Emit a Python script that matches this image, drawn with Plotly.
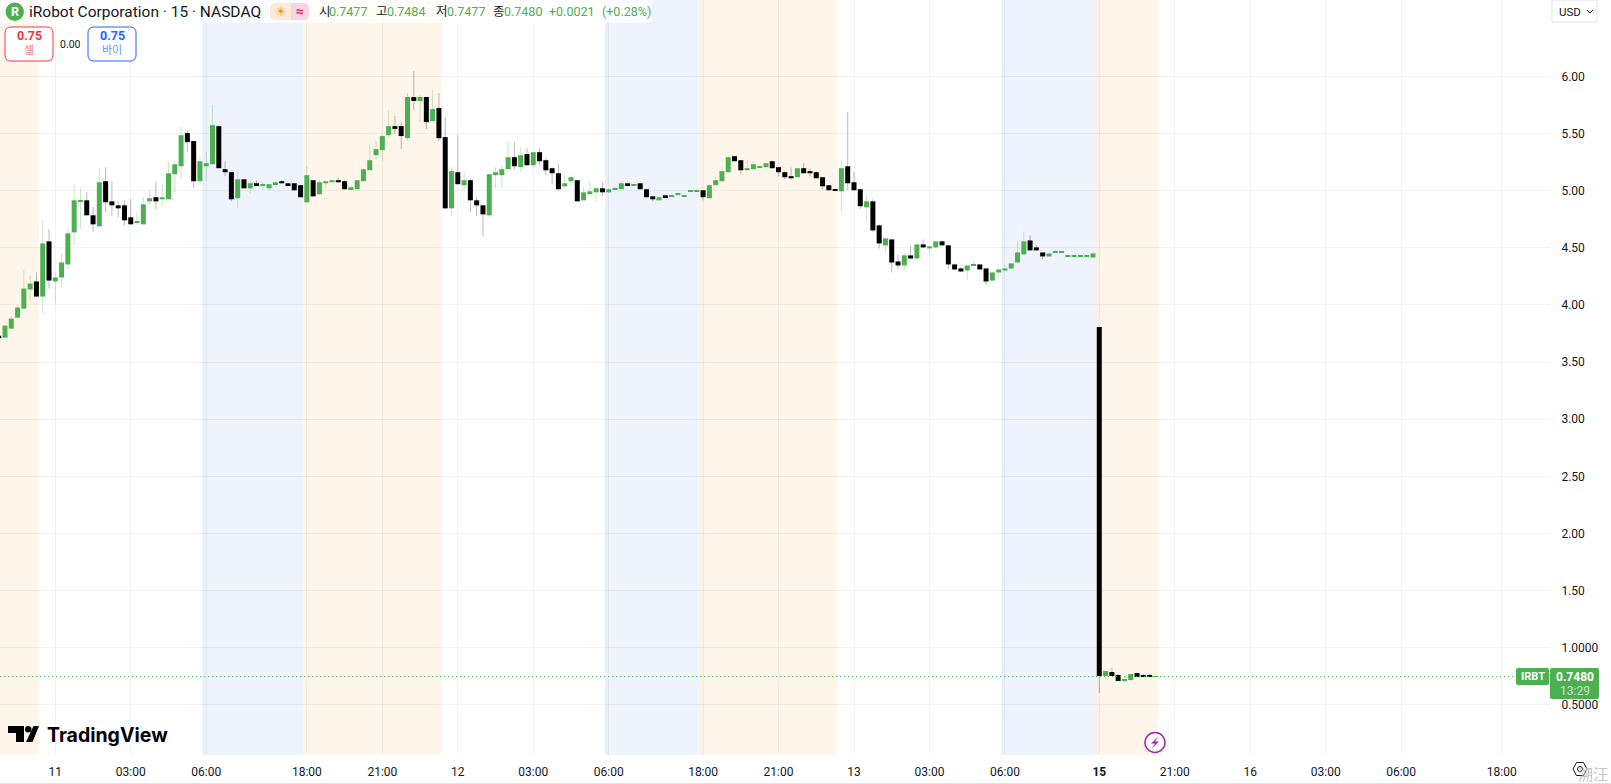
import plotly.graph_objects as go

# ---------- data ----------
bar_numbers = list(range(-1, 184))

opens = [
3.73,3.713,3.792,3.889,3.968,4.135,4.205,4.073,4.556,4.205,
4.240,4.354,4.635,4.905,4.915,4.784,4.687,5.082,4.906,4.871,
4.871,4.766,4.722,4.705,4.906,4.942,4.924,4.924,5.143,5.213,
5.503,5.433,5.082,5.213,5.231,5.564,5.187,5.161,4.933,5.099,
5.020,5.064,5.047,5.020,5.056,5.082,5.064,5.064,5.047,4.898,
5.091,4.968,5.064,5.073,5.091,5.082,5.012,5.012,5.082,5.178,
5.310,5.354,5.485,5.564,5.564,5.459,5.819,5.784,5.819,5.608,
5.722,5.468,4.845,5.161,5.047,5.091,4.915,4.871,4.784,5.135,
5.135,5.187,5.292,5.205,5.319,5.222,5.336,5.266,5.196,5.152,
5.038,5.082,5.091,4.915,4.968,4.985,5.02,4.985,5.012,5.012,
5.064,5.047,5.064,5.012,4.950,4.915,4.959,4.950,4.966,4.950,
4.992,4.992,5.003,4.933,5.047,5.082,5.161,5.301,5.266,5.178,
5.187,5.202,5.205,5.257,5.205,5.161,5.126,5.117,5.196,5.17,
5.161,5.117,5.047,5.01,4.994,5.213,5.073,5.012,4.854,4.906,
4.696,4.52,4.573,4.38,4.345,4.433,4.406,4.529,4.494,4.503,
4.556,4.521,4.354,4.319,4.301,4.347,4.354,4.319,4.213,4.284,
4.301,4.319,4.371,4.442,4.564,4.503,4.459,4.424,4.457,4.457,
4.422,4.422,4.422,4.422,4.415,3.807,0.753,0.788,0.762,0.71,
0.718,0.78,0.755,0.755,0.7477]

highs = [
3.73,3.819,3.90,3.994,4.301,4.257,4.284,4.740,4.661,4.284,
4.450,4.678,5.056,5.029,4.985,4.854,5.196,5.205,5.082,4.906,
4.915,4.924,4.81,4.942,5.003,5.082,5.064,5.257,5.266,5.556,
5.529,5.433,5.301,5.336,5.749,5.564,5.257,5.161,5.170,5.099,
5.082,5.09,5.073,5.056,5.073,5.09,5.064,5.064,5.047,5.213,
5.091,5.09,5.082,5.10,5.117,5.09,5.047,5.091,5.187,5.406,
5.433,5.494,5.705,5.652,5.599,5.854,6.047,5.836,5.819,5.880,
5.854,5.643,5.205,5.485,5.161,5.108,4.942,4.871,5.143,5.205,
5.222,5.433,5.424,5.380,5.371,5.336,5.371,5.283,5.205,5.231,
5.143,5.135,5.091,5.029,5.082,5.03,5.073,5.02,5.02,5.08,
5.07,5.055,5.064,5.012,4.950,4.942,4.959,4.958,4.98,4.958,
5.0,5.02,5.003,5.06,5.126,5.205,5.31,5.301,5.266,5.266,
5.257,5.225,5.24,5.257,5.205,5.17,5.205,5.196,5.24,5.187,
5.17,5.117,5.047,5.01,5.266,5.687,5.161,5.012,4.95,4.924,
4.705,4.582,4.573,4.442,4.45,4.52,4.534,4.573,4.512,4.556,
4.565,4.521,4.363,4.33,4.345,4.38,4.354,4.319,4.295,4.328,
4.345,4.363,4.556,4.643,4.608,4.52,4.459,4.45,4.485,4.465,
4.43,4.44,4.43,4.43,4.46,3.807,0.797,0.823,0.77,0.727,
0.771,0.78,0.77,0.77,0.7484]

lows = [
3.71,3.713,3.792,3.88,3.968,4.020,4.073,3.924,4.143,4.012,
4.152,4.310,4.520,4.661,4.784,4.635,4.687,4.810,4.775,4.766,
4.696,4.705,4.696,4.705,4.871,4.836,4.863,4.924,4.985,5.108,
5.336,5.020,5.073,5.082,5.231,5.196,5.126,4.906,4.845,5.020,
4.977,5.047,5.003,5.003,5.056,5.064,5.047,5.003,4.942,4.898,
4.941,4.968,5.02,5.073,5.073,5.012,5.012,5.012,5.082,5.178,
5.275,5.257,5.459,5.494,5.363,5.433,5.705,5.599,5.538,5.608,
5.433,4.836,4.775,5.056,4.994,4.810,4.775,4.599,4.78,5.020,
5.020,5.187,5.187,5.161,5.222,5.20,5.222,5.135,5.056,5.003,
5.012,5.038,4.906,4.915,4.968,4.906,4.950,4.985,5.012,5.012,
5.047,5.047,5.012,4.942,4.906,4.915,4.942,4.950,4.95,4.950,
4.992,4.992,4.915,4.933,5.047,5.082,5.161,5.257,5.143,5.178,
5.187,5.202,5.205,5.196,5.126,5.10,5.10,5.117,5.152,5.126,
5.108,5.012,5.003,5.0,4.819,5.003,5.003,4.836,4.731,4.635,
4.494,4.45,4.284,4.319,4.301,4.398,4.398,4.503,4.45,4.503,
4.521,4.319,4.31,4.292,4.222,4.347,4.31,4.178,4.213,4.249,
4.301,4.31,4.371,4.442,4.477,4.477,4.398,4.424,4.457,4.457,
4.422,4.422,4.422,4.422,4.415,0.605,0.727,0.753,0.71,0.69,
0.71,0.745,0.745,0.745,0.7477]

closes = [
3.71,3.819,3.880,3.977,4.143,4.187,4.073,4.538,4.213,4.240,
4.371,4.626,4.915,4.915,4.784,4.705,5.073,4.898,4.871,4.845,
4.740,4.705,4.733,4.880,4.933,4.906,4.942,5.152,5.231,5.485,
5.424,5.082,5.257,5.240,5.573,5.196,5.161,4.924,5.099,5.020,
5.064,5.047,5.058,5.056,5.073,5.064,5.047,5.003,4.942,5.135,
4.950,5.073,5.082,5.091,5.073,5.012,5.029,5.091,5.187,5.266,
5.363,5.477,5.564,5.547,5.477,5.819,5.784,5.819,5.599,5.713,
5.459,4.845,5.170,5.056,5.091,4.915,4.871,4.792,5.143,5.161,
5.187,5.292,5.213,5.310,5.222,5.336,5.257,5.178,5.152,5.012,
5.064,5.117,4.906,4.985,4.994,5.02,4.985,5.012,5.024,5.064,
5.047,5.058,5.012,4.942,4.924,4.942,4.942,4.961,4.977,4.961,
5.003,5.003,4.942,5.047,5.091,5.170,5.292,5.257,5.178,5.196,
5.231,5.213,5.24,5.196,5.161,5.117,5.108,5.196,5.152,5.152,
5.108,5.038,5.003,5.0,5.196,5.064,5.003,4.863,4.906,4.652,
4.538,4.582,4.371,4.345,4.433,4.406,4.529,4.503,4.512,4.556,
4.521,4.354,4.31,4.292,4.345,4.358,4.31,4.205,4.284,4.31,
4.319,4.363,4.459,4.556,4.477,4.477,4.424,4.45,4.468,4.468,
4.433,4.433,4.433,4.433,4.45,0.753,0.797,0.753,0.71,0.727,
0.771,0.745,0.745,0.745,0.748]

x_tick_bars = [8,20,32,48,60,72,84,96,111,123,135,147,159,174,186,198,210,222,238]
x_tick_labels = ["11","03:00","06:00","18:00","21:00","12","03:00","06:00","18:00","21:00",
                 "13","03:00","06:00","<b>15</b>","21:00","16","03:00","06:00","18:00"]
y_tick_values = [6.0,5.5,5.0,4.5,4.0,3.5,3.0,2.5,2.0,1.5,1.0,0.5]
y_tick_labels = ["6.00","5.50","5.00","4.50","4.00","3.50","3.00","2.50","2.00","1.50","1.0000","0.5000"]

premarket_sessions = [(-2, 5.4), (47.4, 69.4), (110.4, 132.4), (173.4, 183.4)]
postmarket_sessions = [(31.4, 47.4), (95.4, 110.4), (158.4, 173.4)]
post_seams = [(31.4, 32), (95.4, 96), (158.4, 159)]
pre_seams = [(110.4, 111), (173.4, 174)]
last_price = 0.748

title_text = "iRobot Corporation · 15 · NASDAQ"
ohlc_items = [("시", 317.5, "#131722"), ("0.7477", 328, "#4caf50"), ("고", 375, "#131722"), ("0.7484", 386, "#4caf50"),
              ("저", 435, "#131722"), ("0.7477", 446, "#4caf50"), ("종", 492, "#131722"), ("0.7480", 503, "#4caf50"),
              ("+0.0021", 548, "#4caf50"), ("(+0.28%)", 601, "#4caf50")]

# ---------- colours / frame ----------
GREEN, BLACK = "#4caf50", "#000000"
WICK_UP, WICK_DOWN = "rgba(76,175,80,0.30)", "rgba(0,0,0,0.28)"
PLOT_W, PLOT_H = 1550, 755
PITCH = 6.289
FONT = "Roboto, 'Noto Sans CJK KR', sans-serif"

def X(px): return px / PLOT_W
def Y(py): return 1 - py / PLOT_H

up = [c >= o for o, c in zip(opens, closes)]

fig = go.Figure()
fig.add_trace(go.Bar(x=bar_numbers, y=[h - l for h, l in zip(highs, lows)], base=lows,
                     width=1 / PITCH, marker=dict(color=[WICK_UP if u else WICK_DOWN for u in up], line_width=0),
                     hoverinfo="skip"))
fig.add_trace(go.Bar(x=bar_numbers, y=[abs(c - o) for o, c in zip(opens, closes)],
                     base=[min(o, c) for o, c in zip(opens, closes)],
                     width=5 / PITCH, marker=dict(color=[GREEN if u else BLACK for u in up], line_width=0),
                     hoverinfo="skip"))

shapes = []
def band(a, b, color):
    shapes.append(dict(type="rect", xref="x", yref="paper", x0=a, x1=b, y0=0, y1=1, fillcolor=color, line_width=0, layer="below"))
for a, b in premarket_sessions:
    band(a, b, "#fff6eb")
for a, b in postmarket_sessions:
    band(a, b, "#eef3fe")
for a, b in post_seams:
    band(a, b, "rgba(60,80,140,0.025)")
for a, b in pre_seams:
    band(a, b, "rgba(200,130,60,0.04)")

def rrect(x0, y0, x1, y1, r):
    xa, xb, ya, yb = X(x0), X(x1), Y(y0), Y(y1)
    rx, ry = r / PLOT_W, r / PLOT_H
    return (f"M {xa+rx} {ya} L {xb-rx} {ya} Q {xb} {ya} {xb} {ya-ry} L {xb} {yb+ry} Q {xb} {yb} {xb-rx} {yb} "
            f"L {xa+rx} {yb} Q {xa} {yb} {xa} {yb+ry} L {xa} {ya-ry} Q {xa} {ya} {xa+rx} {ya} Z")

def path(points, close=True):
    return "M " + " L ".join(f"{X(a)} {Y(b)}" for a, b in points) + (" Z" if close else "")

def ui(p, fill=None, line=None, lw=1, layer="above"):
    shapes.append(dict(type="path", xref="paper", yref="paper", path=p, fillcolor=fill or "rgba(0,0,0,0)",
                       line=dict(color=line or "rgba(0,0,0,0)", width=lw if line else 0), layer=layer))

# last-price dotted line
shapes.append(dict(type="line", xref="paper", yref="y", x0=0, x1=1, y0=last_price, y1=last_price,
                   line=dict(color=GREEN, width=1, dash="1px,3px"), layer="above"))

# legend strip + controls
ui(path([(0, 0), (652, 0), (652, 23), (0, 23)]), fill="rgba(255,255,255,0.75)")
shapes.append(dict(type="circle", xref="paper", yref="paper", x0=X(5.5), x1=X(24), y0=Y(2.5), y1=Y(21), fillcolor=GREEN, line_width=0, layer="above"))
ui(rrect(270, 3, 291, 20, 6), fill="#fdead3")
ui(rrect(285, 3, 309, 20, 6), fill="#f8d3e2")
ui(path([(285, 3), (291, 3), (291, 20), (285, 20)]), fill="#fdead3")
ui(rrect(5, 27, 53, 61, 6), fill="#ffffff", line="#f23645")
ui(rrect(88, 27, 136, 61, 6), fill="#ffffff", line="#2962ff")

# price-scale boxes
ui(path([(1552, 0), (1597, 0), (1597, 22), (1552, 22)]), fill="#ffffff", line="#e0e3eb")
ui(path([(1587, 10), (1590, 13), (1593, 10)], close=False), line="#131722", lw=1)
ui(rrect(1516, 668, 1549, 685, 2), fill=GREEN)
ui(rrect(1550, 668, 1599, 699, 2), fill=GREEN)

# TradingView mark
ui(path([(8, 726), (24, 726), (24, 742), (16, 742), (16, 733), (8, 733)]), fill="#000000")
shapes.append(dict(type="circle", xref="paper", yref="paper", x0=X(25), x1=X(31.5), y0=Y(726), y1=Y(732.5), fillcolor="#000000", line_width=0, layer="above"))
ui(path([(33.5, 726), (39, 726), (32.5, 742), (26, 742)]), fill="#000000")

# bolt button
shapes.append(dict(type="circle", xref="paper", yref="paper", x0=X(1145), x1=X(1165), y0=Y(732.5), y1=Y(752.5),
                   fillcolor="#ffffff", line=dict(color="#9c27b0", width=1.5), layer="above"))
ui(path([(1158.5, 736.5), (1151, 743.5), (1155, 743.5), (1151.5, 748.5), (1159, 741.5), (1155, 741.5)]), fill="#9c27b0")

# settings hexagon + bottom rule
ui(path([(1573, 769), (1576.5, 762.5), (1583.5, 762.5), (1587, 769), (1583.5, 775.5), (1576.5, 775.5)]), line="#131722", lw=1)
shapes.append(dict(type="circle", xref="paper", yref="paper", x0=X(1577.5), x1=X(1582.5), y0=Y(766.5), y1=Y(771.5),
                   line=dict(color="#131722", width=1), layer="above"))
ui(path([(0, 783), (1611, 783), (1611, 784), (0, 784)]), fill="#e0e3eb")

def note(text, x, y, size=12, color="#131722", anchor="left", bold=False, family=FONT):
    return dict(text=f"<b>{text}</b>" if bold else text, xref="paper", yref="paper", x=X(x), y=Y(y),
                xanchor=anchor, yanchor="middle", showarrow=False, borderpad=0,
                font=dict(size=size, color=color, family=family))

notes = [
    note("R", 14.8, 11.5, 12.5, "#ffffff", "center", True),
    note(title_text, 28, 11.5, 15.5),
    note("☀", 280.5, 11, 13, "#ff9800", "center", family="'DejaVu Sans'"),
    note("≈", 300, 11, 14, "#e91e63", "center", True),
    note("0.75", 29, 36, 12.5, "#f23645", "center", True),
    note("셀", 29, 50.5, 11, "#f77c80", "center"),
    note("0.00", 70.5, 44, 10.5, "#131722", "center"),
    note("0.75", 112, 36, 12.5, "#2962ff", "center", True),
    note("바이", 112, 50.5, 11, "#5b9cf6", "center"),
    note("USD", 1558, 11.5, 11.5),
    note("IRBT", 1532.5, 676.5, 11, "#ffffff", "center", True),
    note("0.7480", 1574.5, 676.5, 12, "#ffffff", "center", True),
    note("13:29", 1574.5, 691, 12, "rgba(255,255,255,0.72)", "center"),
    note("TradingView", 46, 735, 19.5, "#000000", "left", True, "Inter, Roboto, sans-serif"),
    note("溯汪", 1609, 775, 15, "#c4c4c4", "right"),
]
notes += [note(t, x, 11.5, 12.5, c) for t, x, c in ohlc_items]

x_lo = (0 - 55.3) / PITCH + 8
x_hi = (PLOT_W - 55.3) / PITCH + 8
y_lo = 6 - (PLOT_H - 76.3) / 114.3
y_hi = 6 + 76.3 / 114.3

GRID = "rgba(42,46,57,0.06)"
fig.update_layout(
    width=1611, height=784, margin=dict(l=0, r=61, t=0, b=29), autosize=False,
    paper_bgcolor="#ffffff", plot_bgcolor="#ffffff", showlegend=False, barmode="overlay",
    font=dict(family=FONT, size=12, color="#131722"),
    shapes=shapes, annotations=notes,
    xaxis=dict(range=[x_lo, x_hi], tickmode="array", tickvals=x_tick_bars, ticktext=x_tick_labels,
               showgrid=True, gridcolor=GRID, gridwidth=1, zeroline=False, showline=False,
               ticks="outside", ticklen=6, tickcolor="rgba(0,0,0,0)", tickfont=dict(size=12, color="#131722"),
               fixedrange=True),
    yaxis=dict(range=[y_lo, y_hi], side="right", tickmode="array", tickvals=y_tick_values, ticktext=y_tick_labels,
               showgrid=True, gridcolor=GRID, gridwidth=1, zeroline=False, showline=False,
               ticks="outside", ticklen=8, tickcolor="rgba(0,0,0,0)", tickfont=dict(size=12, color="#131722"),
               fixedrange=True),
)

fig.write_html("out.html", config=dict(displayModeBar=False),
               post_script="document.body.style.margin='0';document.documentElement.style.overflow='hidden';")
